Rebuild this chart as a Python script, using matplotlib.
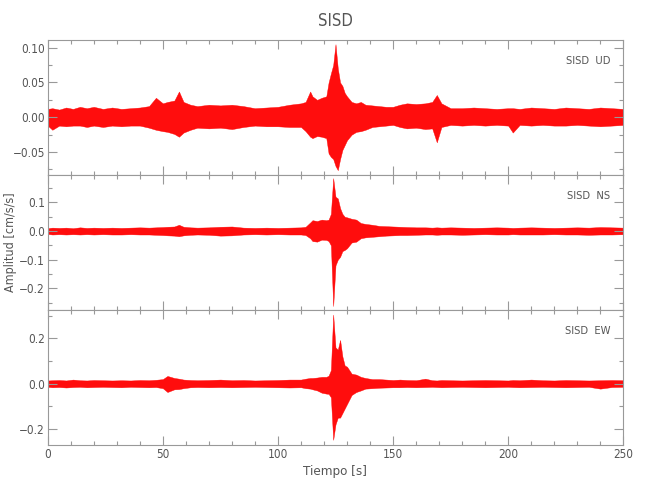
import matplotlib
matplotlib.use('Agg')
import matplotlib.pyplot as plt
from matplotlib.ticker import MultipleLocator

plt.rcParams['font.family'] = ['DejaVu Sans']
plt.rcParams['font.stretch'] = 'condensed'

# tiempo [s] de los puntos de la envolvente
t = [0, 2, 5, 8, 11, 14, 17, 20, 24, 28,
     32, 36, 40, 44, 47, 50, 52, 55, 57, 59,
     62, 65, 70, 75, 80, 85, 90, 95, 100, 105,
     110, 112, 114, 115, 117, 119, 121, 122, 123, 124,
     125, 126, 127, 128, 129, 130, 132, 134, 136, 138,
     141, 144, 147, 150, 153, 156, 160, 164, 167, 169,
     171, 175, 180, 185, 190, 195, 200, 202, 205, 210,
     215, 220, 225, 230, 235, 240, 245, 250]

# UD
ud_hi = [.012, .013, .011, .014, .012, .015, .013, .015, .012, .014,
         .012, .013, .014, .016, .028, .020, .022, .024, .037, .022,
         .018, .016, .018, .017, .018, .016, .013, .014, .015, .018,
         .020, .022, .037, .030, .025, .028, .030, .050, .063, .075,
         .105, .070, .050, .045, .035, .030, .022, .020, .022, .018,
         .017, .016, .015, .015, .018, .020, .019, .020, .022, .032,
         .020, .013, .013, .014, .013, .012, .013, .013, .012, .014,
         .013, .012, .014, .013, .012, .014, .013, .012]
ud_lo = [-.012, -.018, -.012, -.013, -.012, -.012, -.014, -.012, -.014, -.012,
         -.013, -.012, -.012, -.015, -.018, -.020, -.021, -.024, -.028, -.022,
         -.018, -.015, -.016, -.015, -.017, -.014, -.012, -.013, -.013, -.014,
         -.014, -.020, -.028, -.030, -.027, -.028, -.030, -.052, -.057, -.060,
         -.070, -.076, -.060, -.047, -.040, -.033, -.025, -.021, -.020, -.018,
         -.014, -.013, -.012, -.011, -.014, -.016, -.015, -.017, -.016, -.036,
         -.014, -.011, -.012, -.011, -.012, -.011, -.012, -.022, -.011, -.012,
         -.011, -.012, -.012, -.011, -.012, -.013, -.012, -.011]

# NS
ns_hi = [.010, .012, .011, .012, .010, .013, .011, .012, .011, .012,
         .011, .012, .013, .012, .013, .014, .015, .016, .022, .015,
         .013, .012, .013, .015, .016, .012, .011, .012, .011, .012,
         .013, .015, .030, .038, .035, .040, .038, .040, .060, .185,
         .120, .114, .080, .060, .050, .048, .043, .040, .028, .025,
         .022, .018, .017, .016, .015, .014, .013, .013, .012, .013,
         .012, .013, .012, .011, .012, .013, .012, .011, .012, .013,
         .012, .011, .012, .013, .012, .014, .013, .012]
ns_lo = [-.010, -.012, -.011, -.012, -.011, -.012, -.011, -.012, -.011, -.012,
         -.012, -.011, -.012, -.012, -.013, -.014, -.015, -.016, -.018, -.015,
         -.013, -.012, -.013, -.016, -.015, -.012, -.011, -.012, -.011, -.012,
         -.012, -.014, -.025, -.035, -.037, -.030, -.031, -.035, -.050, -.262,
         -.120, -.100, -.090, -.070, -.066, -.060, -.040, -.037, -.025, -.022,
         -.020, -.018, -.016, -.015, -.014, -.014, -.013, -.012, -.012, -.013,
         -.012, -.012, -.013, -.012, -.011, -.012, -.012, -.011, -.012, -.012,
         -.012, -.011, -.012, -.012, -.013, -.012, -.012, -.011]

# EW
ew_hi = [.014, .015, .016, .014, .018, .015, .014, .016, .015, .014,
         .015, .014, .016, .015, .017, .020, .034, .025, .022, .018,
         .016, .015, .016, .018, .015, .016, .014, .015, .016, .018,
         .018, .022, .025, .025, .027, .030, .030, .035, .060, .305,
         .160, .150, .193, .120, .080, .075, .044, .040, .030, .025,
         .020, .020, .018, .016, .018, .016, .015, .022, .015, .014,
         .016, .015, .014, .015, .016, .015, .014, .016, .015, .018,
         .015, .014, .016, .015, .014, .015, .016, .015]
ew_lo = [-.014, -.016, -.015, -.017, -.015, -.014, -.016, -.015, -.014, -.015,
         -.016, -.014, -.015, -.016, -.015, -.020, -.037, -.025, -.024, -.020,
         -.016, -.015, -.016, -.015, -.016, -.015, -.014, -.015, -.016, -.017,
         -.016, -.020, -.022, -.025, -.030, -.040, -.044, -.045, -.060, -.248,
         -.180, -.150, -.150, -.130, -.110, -.090, -.050, -.037, -.030, -.022,
         -.020, -.018, -.017, -.016, -.016, -.015, -.016, -.015, -.014, -.015,
         -.016, -.015, -.014, -.015, -.016, -.015, -.014, -.015, -.016, -.015,
         -.014, -.015, -.016, -.015, -.014, -.022, -.015, -.014]

comps = ['UD', 'NS', 'EW']
his = [ud_hi, ns_hi, ew_hi]
los = [ud_lo, ns_lo, ew_lo]
ylims = [(-0.083, 0.1106), (-0.277, 0.196), (-0.271, 0.324)]
ymaj = [0.05, 0.1, 0.2]
ymin = [0.025, 0.05, 0.1]

gris = '#999999'
txt = '#555555'

fig = plt.figure(figsize=(6.5, 5), dpi=100)
left, width = 0.0734, 0.8855
bottoms = [0.65, 0.3794, 0.11]
heights = [0.2694, 0.2706, 0.2694]

for i in range(3):
    ax = fig.add_axes([left, bottoms[i], width, heights[i]])
    ax.fill_between(t, los[i], his[i], color='red', lw=0.3, alpha=0.95)
    ax.set_xlim(0, 250)
    ax.set_ylim(ylims[i])
    ax.xaxis.set_major_locator(MultipleLocator(50))
    ax.xaxis.set_minor_locator(MultipleLocator(10))
    ax.yaxis.set_major_locator(MultipleLocator(ymaj[i]))
    ax.yaxis.set_minor_locator(MultipleLocator(ymin[i]))
    ax.tick_params(which='both', direction='in', top=True, right=True,
                   color=gris, labelcolor=txt, labelsize=8.5, pad=2)
    ax.tick_params(which='major', length=6.5, width=0.8)
    ax.tick_params(which='minor', length=3.2, width=0.8)
    for s in ax.spines.values():
        s.set_color(gris)
        s.set_linewidth(0.8)
    if i < 2:
        ax.set_xticklabels([])
    ax.text(0.978, 0.845, 'SISD  ' + comps[i], transform=ax.transAxes,
            ha='right', va='center', fontsize=8, color=txt)

fig.text(0.516, 0.958, 'SISD', ha='center', va='center', fontsize=12, color=txt)
fig.text(0.516, 0.058, 'Tiempo [s]', ha='center', va='center', fontsize=9.5, color=txt)
fig.text(0.016, 0.515, 'Amplitud [cm/s/s]', ha='center', va='center',
         rotation=90, fontsize=9, color=txt)

plt.savefig('out.png', dpi=100)
